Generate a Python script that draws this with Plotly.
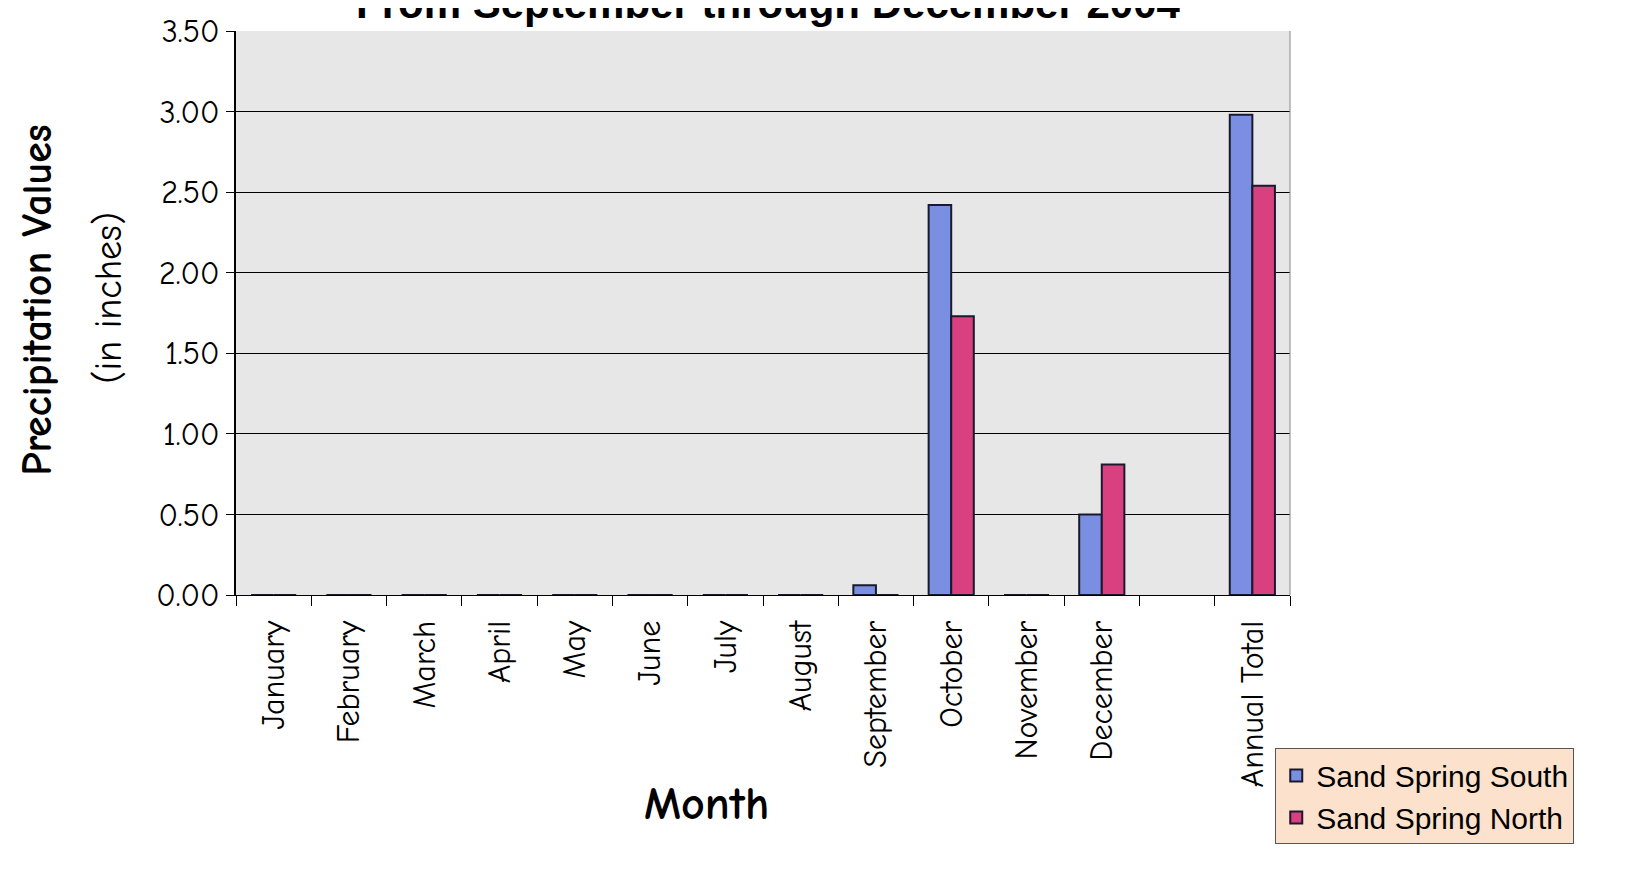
import plotly.graph_objects as go

categories = ["January", "February", "March", "April", "May", "June", "July",
              "August", "September", "October", "November", "December", " ", "Annual Total"]
south = [0, 0, 0, 0, 0, 0, 0, 0, 0.06, 2.42, 0, 0.50, None, 2.98]
north = [0, 0, 0, 0, 0, 0, 0, 0, 0, 1.73, 0, 0.81, None, 2.54]
y_ticks = [0, 0.5, 1.0, 1.5, 2.0, 2.5, 3.0, 3.5]
y_tick_labels = ["0.00", "0.50", "1.00", "1.50", "2.00", "2.50", "3.00", "3.50"]

COMIC = "Comic Sans MS, Comic Neue, DejaVu Sans, sans-serif"
ARIAL = "Liberation Sans, Arial, sans-serif"

fig = go.Figure()
fig.add_trace(go.Bar(name="Sand Spring South", x=categories, y=south,
                     marker=dict(color="#7B8FE2", line=dict(color="#1a1a2e", width=2))))
fig.add_trace(go.Bar(name="Sand Spring North", x=categories, y=north,
                     marker=dict(color="#D9407F", line=dict(color="#1a1a2e", width=2))))

fig.update_layout(
    width=1640, height=869,
    margin=dict(l=228, r=358, t=23, b=282, autoexpand=False),
    paper_bgcolor="white",
    plot_bgcolor="#E7E7E7",
    barmode="group", bargap=0.4, bargroupgap=0,
    showlegend=True,
    legend=dict(x=0.986, y=-0.272, xanchor="left", yanchor="top",
                bgcolor="#FCE2CC", bordercolor="#555555", borderwidth=1,
                font=dict(family=ARIAL, size=30, color="black"),
                tracegroupgap=2),
)

fig.update_xaxes(
    type="category", tickangle=-90, tickson="boundaries",
    ticks="outside", ticklen=10, tickcolor="black",
    tickfont=dict(family=COMIC, size=32, color="black"),
    ticklabelstandoff=12,
    showline=True, linecolor="black", linewidth=1,
    showgrid=False,
)
fig.update_yaxes(
    range=[0, 3.5], tickvals=y_ticks, ticktext=y_tick_labels,
    ticks="outside", ticklen=8, tickcolor="black",
    tickfont=dict(family=COMIC, size=32, color="black"),
    showline=True, linecolor="black", linewidth=2,
    showgrid=True, gridcolor="black", gridwidth=1,
    zeroline=False,
)

fig.add_shape(type="line", xref="paper", yref="paper", x0=1, x1=1, y0=0, y1=1,
              line=dict(color="#888888", width=1))

# Title (top part cut off by the page edge, as in the reference)
fig.add_annotation(text="<b>From September through December 2004</b>",
                   xref="paper", yref="paper", x=0.505, y=1.006,
                   xanchor="center", yanchor="bottom", showarrow=False, borderpad=0,
                   font=dict(family=ARIAL, size=42, color="black"))

fig.add_annotation(text="<b>Precipitation Values</b>", xref="paper", yref="paper",
                   x=-0.189, y=0.523, xanchor="center", yanchor="middle",
                   textangle=-90, showarrow=False,
                   font=dict(family=COMIC, size=42, color="black"))
fig.add_annotation(text="(in inches)", xref="paper", yref="paper",
                   x=-0.1205, y=0.527, xanchor="center", yanchor="middle",
                   textangle=-90, showarrow=False,
                   font=dict(family=COMIC, size=38, color="black"))
fig.add_annotation(text="<b>Month</b>", xref="paper", yref="paper",
                   x=0.446, y=-0.372, xanchor="center", yanchor="middle",
                   showarrow=False,
                   font=dict(family=COMIC, size=46, color="black"))

fig.write_html("out.html")
